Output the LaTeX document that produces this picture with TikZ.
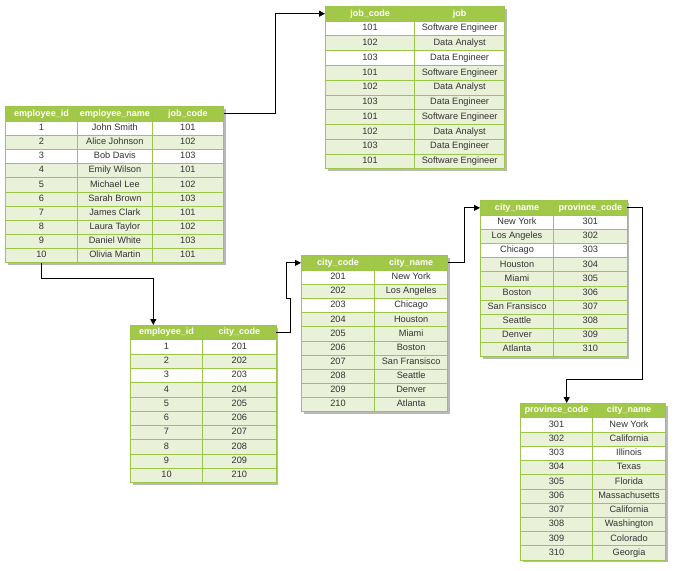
\documentclass[tikz,border=0pt]{standalone}
\usepackage{fontspec}
\setmainfont{Liberation Sans}
\usetikzlibrary{arrows.meta}
\definecolor{hdrg}{HTML}{A2C84A}
\definecolor{rowg}{HTML}{E9F1D9}
\definecolor{brdg}{HTML}{9CC64A}
\definecolor{txt}{HTML}{333333}
\definecolor{shd}{HTML}{B8B8B8}
\tikzset{
 cellbase/.style={draw=brdg, line width=0.7pt, inner sep=0pt, anchor=north west, text height=6.6pt, text depth=1.9pt},
 hdrcell/.style={cellbase, fill=hdrg, text=white, font=\fontsize{9}{10}\selectfont\bfseries},
 bodycell/.style={cellbase, text=txt, font=\fontsize{9.2}{10}\selectfont},
 conn/.style={draw=black, line width=0.8pt, -{Triangle[length=6pt,width=6pt]}},
 tshadow/.style={fill=shd}
}
\newcommand\twotab[9]{%
 \begin{scope}[shift={(#2,#3)}]
  \fill[tshadow] (2.5,2.5) rectangle ++(#4+#5, #6+10*#7);
  \foreach \ha/\hb in {#8} {
   \node[hdrcell, minimum width=#4, minimum height=#6] (#1-h1) at (0,0) {\ha};
   \node[hdrcell, minimum width=#5, minimum height=#6] (#1-h2) at (#4,0) {\hb};
  }
  \foreach \a/\b [count=\i] in {#9} {
   \pgfmathsetmacro\yy{#6+(\i-1)*#7}
   \ifnum\i=1 \def\rf{white}\else\ifnum\i=3 \def\rf{white}\else\def\rf{rowg}\fi\fi
   \node[bodycell, fill=\rf, minimum width=#4, minimum height=#7] (#1-\i-1) at (0,\yy) {\a};
   \node[bodycell, fill=\rf, minimum width=#5, minimum height=#7] (#1-\i-2) at (#4,\yy) {\b};
  }
 \end{scope}%
}
\begin{document}
\begin{tikzpicture}[x=1pt, y=-1pt]
\useasboundingbox (0,0) rectangle (679,570);

% table 1: employees
\begin{scope}[shift={(5,106)}]
 \fill[tshadow] (2.5,2.5) rectangle ++(218.3, 156.3);
 \node[hdrcell, minimum width=72.3, minimum height=14.7] (t1-h1) at (0,0) {employee\_id};
 \node[hdrcell, minimum width=74.4, minimum height=14.7] (t1-h2) at (72.3,0) {employee\_name};
 \node[hdrcell, minimum width=71.6, minimum height=14.7] (t1-h3) at (146.7,0) {job\_code};
 \foreach \a/\b/\c [count=\i] in {1/John Smith/101, 2/Alice Johnson/102, 3/Bob Davis/103, 4/Emily Wilson/101, 5/Michael Lee/102, 6/Sarah Brown/103, 7/James Clark/101, 8/Laura Taylor/102, 9/Daniel White/103, 10/Olivia Martin/101} {
  \pgfmathsetmacro\yy{14.7+(\i-1)*14.16}
  \ifnum\i=1 \def\rf{white}\else\ifnum\i=3 \def\rf{white}\else\def\rf{rowg}\fi\fi
  \node[bodycell, fill=\rf, minimum width=72.3, minimum height=14.16] (t1-\i-1) at (0,\yy) {\a};
  \node[bodycell, fill=\rf, minimum width=74.4, minimum height=14.16] (t1-\i-2) at (72.3,\yy) {\b};
  \node[bodycell, fill=\rf, minimum width=71.6, minimum height=14.16] (t1-\i-3) at (146.7,\yy) {\c};
 }
\end{scope}

% table 2: jobs
\twotab{t2}{325}{6}{89.3}{90}{14.7}{14.76}{job\_code/job}{101/Software Engineer, 102/Data Analyst, 103/Data Engineer, 101/Software Engineer, 102/Data Analyst, 103/Data Engineer, 101/Software Engineer, 102/Data Analyst, 103/Data Engineer, 101/Software Engineer}

% table 3: employee city
\twotab{t3}{130}{325}{72.3}{73.4}{14.3}{14.3}{employee\_id/city\_code}{1/201, 2/202, 3/203, 4/204, 5/205, 6/206, 7/207, 8/208, 9/209, 10/210}

% table 4: cities
\twotab{t4}{301}{255}{73.3}{73}{15}{14.1}{city\_code/city\_name}{201/New York, 202/Los Angeles, 203/Chicago, 204/Houston, 205/Miami, 206/Boston, 207/San Fransisco, 208/Seattle, 209/Denver, 210/Atlanta}

% table 5: city province
\twotab{t5}{480}{200}{73.3}{73.4}{15}{14.1}{city\_name/province\_code}{New York/301, Los Angeles/302, Chicago/303, Houston/304, Miami/305, Boston/306, San Fransisco/307, Seattle/308, Denver/309, Atlanta/310}

% table 6: provinces
\twotab{t6}{520}{403}{72.3}{72.7}{14.3}{14.24}{province\_code/city\_name}{301/New York, 302/California, 303/Illinois, 304/Texas, 305/Florida, 306/Massachusetts, 307/California, 308/Washington, 309/Colorado, 310/Georgia}

% connectors
\draw[conn] (t1-h3.east) -- ++(51,0) |- (t2-h1.west);
\draw[conn] (t1-10-1.south) -- ++(0,15.5) -| ([xshift=23.3pt]t3-h1.north west);
\draw[conn] (t3-h2.east) -- ++(14.3,0) -- ++(0,-33.7) -- ++(-4.3,0) |- (t4-h1.west);
\draw[conn] (t4-h2.east) -- ++(16,0) |- (t5-h1.west);
\draw[conn] (t5-h2.east) -- ++(15,0) -- ++(0,171.8) -| ([xshift=46.7pt]t6-h1.north west);
\end{tikzpicture}
\end{document}
